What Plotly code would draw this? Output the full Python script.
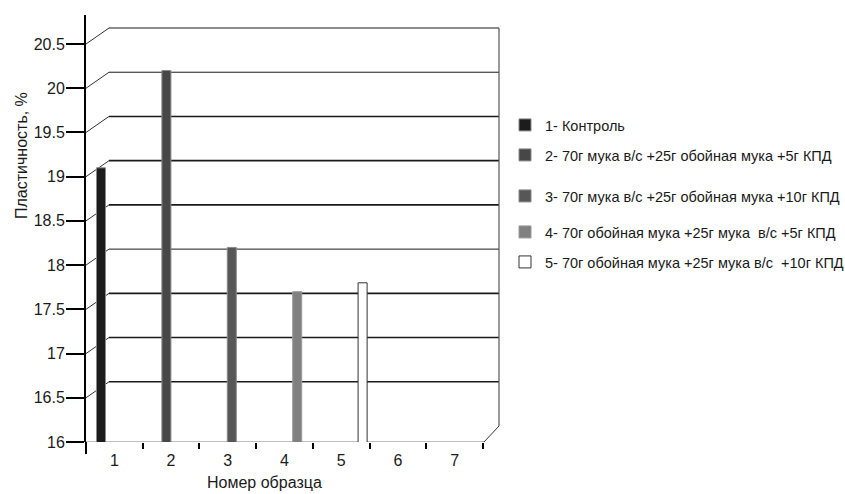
import plotly.graph_objects as go

# ---- data -------------------------------------------------------------
categories = ["1", "2", "3", "4", "5", "6", "7"]
sample_no = [1, 2, 3, 4, 5]
plasticity = [19.1, 20.2, 18.2, 17.7, 17.8]
series_names = [
    "1- Контроль",
    "2- 70г мука в/с +25г обойная мука +5г КПД",
    "3- 70г мука в/с +25г обойная мука +10г КПД",
    "4- 70г обойная мука +25г мука  в/с +5г КПД",
    "5- 70г обойная мука +25г мука в/с  +10г КПД",
]
y_ticks = [16, 16.5, 17, 17.5, 18, 18.5, 19, 19.5, 20, 20.5]

# ---- styling ----------------------------------------------------------
fills = ["#1c1c1c", "#474747", "#575757", "#808080", "#ffffff"]
edges = ["#8a8a8a", "#8a8a8a", "#8a8a8a", "#9a9a9a", "#333333"]
FONT = "Liberation Sans, Arial, sans-serif"

W, H = 845, 494
L, R, T, B = 86, 345, 15, 52
PW, PH = W - L - R, H - T - B
Y0, Y1 = 16.0, 20.828          # value range of the front scale
DEPTH = 0.181                  # back wall offset, value units


def px(x):
    """horizontal pixel -> paper fraction"""
    return (x - L) / PW


def py(y):
    """vertical pixel -> paper fraction"""
    return (H - B - y) / PH


fig = go.Figure()

# invisible carrier so the category axis is laid out
cat_pos = list(range(1, len(categories) + 1))
fig.add_trace(go.Scatter(x=cat_pos, y=[Y0] * len(cat_pos), mode="markers",
                         marker=dict(opacity=0), hoverinfo="skip",
                         showlegend=False, xaxis="x", yaxis="y"))

legend_rows = [125, 155, 196, 232, 262]
for i, (xv, v, name) in enumerate(zip(sample_no, plasticity, series_names)):
    lg = "legend" if i == 0 else f"legend{i + 1}"
    fig.add_trace(go.Bar(
        x=[xv], y=[v], name=name, width=0.138,
        marker=dict(color=fills[i], line=dict(color=edges[i], width=1)),
        xaxis="x2", yaxis="y", legend=lg, showlegend=True,
    ))

# 3-D frame: back wall gridlines with diagonal connectors to the front scale
shapes = []
wall_l, wall_r, floor_r = px(109), px(499), px(484)
for v in y_ticks[1:]:
    w = 1.0 if v in (20.5, 20, 18) else 1.6
    shapes.append(dict(type="line", xref="paper", yref="y", layer="below",
                       x0=wall_l, x1=wall_r, y0=v + DEPTH, y1=v + DEPTH,
                       line=dict(color="#1a1a1a", width=w)))
    shapes.append(dict(type="line", xref="paper", yref="y", layer="below",
                       x0=0, x1=wall_l, y0=v, y1=v + DEPTH,
                       line=dict(color="#333333", width=1)))
# floor edge and right wall edge
shapes.append(dict(type="line", xref="paper", yref="y", layer="below",
                   x0=0, x1=floor_r, y0=Y0, y1=Y0,
                   line=dict(color="#808080", width=1.2)))
shapes.append(dict(type="line", xref="paper", yref="y", layer="below",
                   x0=floor_r, x1=wall_r, y0=Y0, y1=Y0 + DEPTH,
                   line=dict(color="#333333", width=1)))
shapes.append(dict(type="line", xref="paper", yref="y", layer="below",
                   x0=wall_r, x1=wall_r, y0=Y0 + DEPTH, y1=20.5 + DEPTH,
                   line=dict(color="#555555", width=1.2)))
# value axis continues a little below the floor
shapes.append(dict(type="line", xref="paper", yref="paper",
                   x0=0, x1=0, y0=py(454), y1=0,
                   line=dict(color="#000000", width=2)))

annotations = [
    dict(text="Пластичность, %", xref="paper", yref="paper",
         x=px(21), y=py(156), xanchor="center", yanchor="middle",
         textangle=-90, showarrow=False,
         font=dict(family=FONT, size=16, color="#1a1a1a")),
    dict(text="Номер образца", xref="paper", yref="paper",
         x=px(264), y=py(483), xanchor="center", yanchor="middle",
         showarrow=False,
         font=dict(family=FONT, size=16, color="#1a1a1a")),
]

# one legend block per sample so the rows keep their own spacing
legend_style = dict(xref="container", yref="container",
                    xanchor="left", yanchor="middle", bgcolor="rgba(0,0,0,0)",
                    borderwidth=0,
                    font=dict(family=FONT, size=14.5, color="#1a1a1a"),
                    itemclick=False)
legends = {}
for i, yc in enumerate(legend_rows):
    key = "legend" if i == 0 else f"legend{i + 1}"
    legends[key] = dict(legend_style, x=505 / W, y=1 - yc / H)

# category scale: boundaries 0.5..7.5 at px 86..483
cat_unit = (483 - 86) / 7.0
x_hi = 0.5 + PW / cat_unit
# bar scale: sample 1 at px 101, step 65.4 px
bar_unit = 65.4
x2_lo = 1 - (101 - L) / bar_unit
x2_hi = 1 + (L + PW - 101) / bar_unit

fig.update_layout(
    width=W, height=H,
    margin=dict(l=L, r=R, t=T, b=B, pad=0, autoexpand=False),
    paper_bgcolor="white", plot_bgcolor="white",
    barmode="overlay",
    font=dict(family=FONT, color="#1a1a1a"),
    xaxis=dict(range=[0.5, x_hi], tickmode="array",
               tickvals=cat_pos, ticktext=categories,
               ticks="", showgrid=False, zeroline=False, showline=False,
               tickfont=dict(family=FONT, size=16, color="#1a1a1a"),
               minor=dict(tickmode="array",
                          tickvals=[k + 0.5 for k in range(0, len(categories) + 1)],
                          ticks="outside", ticklen=6, tickwidth=2,
                          tickcolor="#000000", showgrid=False),
               ticklabelstandoff=7,
               fixedrange=True),
    xaxis2=dict(range=[x2_lo, x2_hi], overlaying="x", visible=False,
                fixedrange=True),
    yaxis=dict(range=[Y0, Y1], tickmode="array", tickvals=y_ticks,
               ticks="outside", ticklen=18, tickwidth=1.6, tickcolor="#000000",
               showline=True, linecolor="#000000", linewidth=2,
               showgrid=False, zeroline=False, ticklabelstandoff=-2,
               tickfont=dict(family=FONT, size=16, color="#1a1a1a"),
               fixedrange=True),
    shapes=shapes,
    annotations=annotations,
    **legends,
)

fig.write_html("out.html")
